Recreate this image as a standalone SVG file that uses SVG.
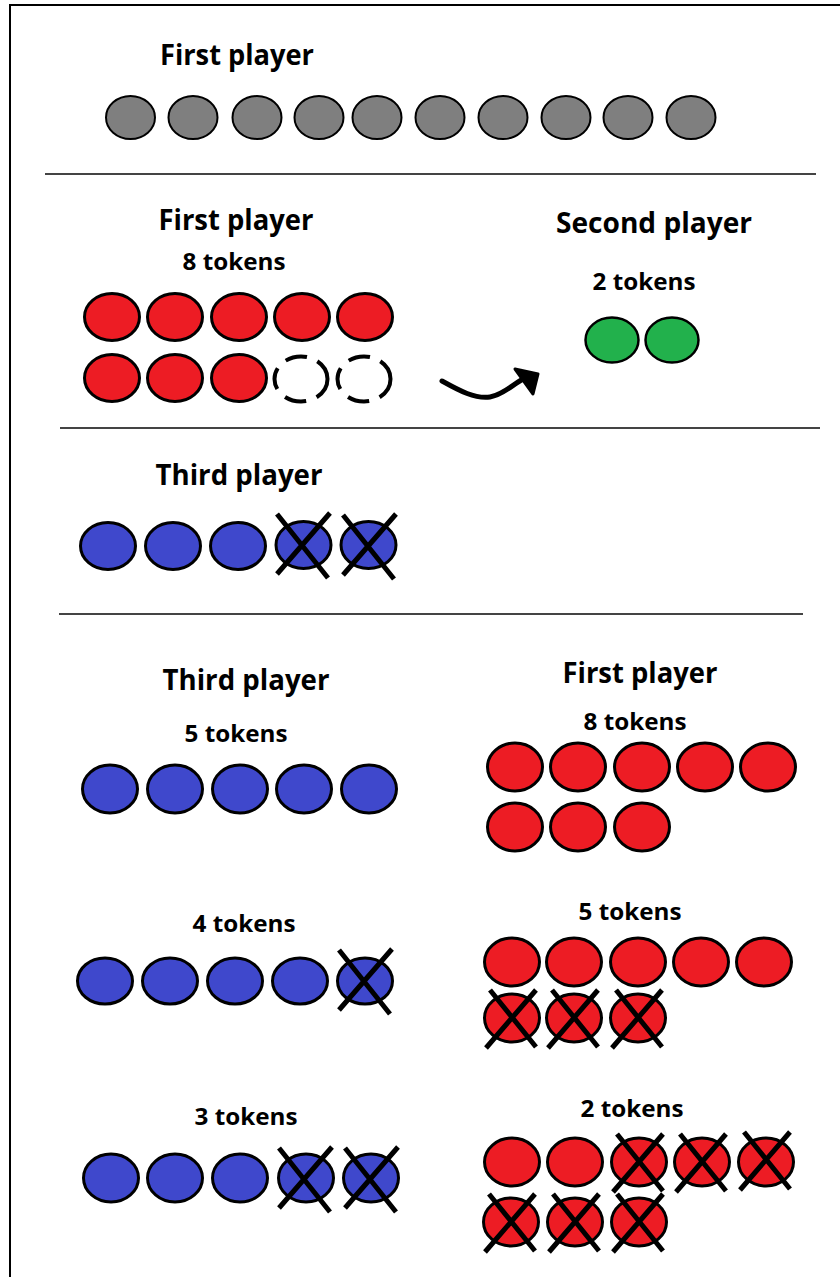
<svg xmlns="http://www.w3.org/2000/svg" xmlns:xlink="http://www.w3.org/1999/xlink" width="840" height="1277" viewBox="0 0 840 1277">
<style>
text{font-family:"Open Sans","Liberation Sans",sans-serif;font-weight:bold;fill:#000;text-anchor:middle}
.t{font-size:28px}
.s{font-size:24px}
.grey{fill:#7f7f7f;stroke:#000;stroke-width:2}
.red{fill:#ed1c24;stroke:#000;stroke-width:3}
.green{fill:#22b14c;stroke:#000;stroke-width:2.5}
.blue{fill:#3f48cc;stroke:#000;stroke-width:3}
.dash{fill:none;stroke:#000;stroke-width:4;stroke-dasharray:22 11}
.div{stroke:#444;stroke-width:2}
.x{fill:none;stroke:#000;stroke-width:5}
</style>
<defs>
<path id="cross" class="x" d="M-26,-31 L25,33 M27,-32 L-26,29"/>
<path id="crossS" class="x" d="M-22,-28 L24,29 M24,-28 L-26,30"/>
</defs>
<rect x="10" y="5" width="850" height="1290" fill="#fff" stroke="#000" stroke-width="2"/>

<g id="dividers">
<line class="div" x1="45" y1="174" x2="816" y2="174"/>
<line class="div" x1="60" y1="428" x2="820" y2="428"/>
<line class="div" x1="59" y1="614" x2="803" y2="614"/>
</g>

<g id="top-first-player">
<text class="t" x="237" y="65" textLength="154" lengthAdjust="spacingAndGlyphs">First player</text>
<ellipse class="grey" cx="130.5" cy="117.5" rx="24.5" ry="21.5"/>
<ellipse class="grey" cx="193" cy="117.5" rx="24.5" ry="21.5"/>
<ellipse class="grey" cx="257" cy="117.5" rx="24.5" ry="21.5"/>
<ellipse class="grey" cx="319" cy="117.5" rx="24.5" ry="21.5"/>
<ellipse class="grey" cx="377" cy="117.5" rx="24.5" ry="21.5"/>
<ellipse class="grey" cx="440" cy="117.5" rx="24.5" ry="21.5"/>
<ellipse class="grey" cx="503" cy="117.5" rx="24.5" ry="21.5"/>
<ellipse class="grey" cx="566" cy="117.5" rx="24.5" ry="21.5"/>
<ellipse class="grey" cx="628" cy="117.5" rx="24.5" ry="21.5"/>
<ellipse class="grey" cx="691" cy="117.5" rx="24.5" ry="21.5"/>
</g>

<g id="s2-first-player">
<text class="t" x="236" y="230" textLength="155" lengthAdjust="spacingAndGlyphs">First player</text>
<text class="s" x="234" y="270" textLength="103" lengthAdjust="spacingAndGlyphs">8 tokens</text>
<ellipse class="red" cx="112" cy="317" rx="27.5" ry="23.5"/>
<ellipse class="red" cx="175" cy="317" rx="27.5" ry="23.5"/>
<ellipse class="red" cx="239" cy="317" rx="27.5" ry="23.5"/>
<ellipse class="red" cx="302" cy="317" rx="27.5" ry="23.5"/>
<ellipse class="red" cx="365" cy="317" rx="27.5" ry="23.5"/>
<ellipse class="red" cx="112" cy="378" rx="27.5" ry="23.5"/>
<ellipse class="red" cx="175" cy="378" rx="27.5" ry="23.5"/>
<ellipse class="red" cx="239" cy="378" rx="27.5" ry="23.5"/>
<ellipse class="dash" cx="301" cy="379" rx="26.5" ry="22.5"/>
<ellipse class="dash" cx="364" cy="379" rx="26.5" ry="22.5"/>
</g>

<g id="connectors">
<path d="M442,381 C460,391 475,399 490,397 C503,395 512,385 523,379" fill="none" stroke="#000" stroke-width="5" stroke-linecap="round"/>
<polygon points="515,369 538,374 533,394" fill="#000" stroke="#000" stroke-width="3" stroke-linejoin="round"/>
</g>

<g id="s2-second-player">
<text class="t" x="654" y="233" textLength="196" lengthAdjust="spacingAndGlyphs">Second player</text>
<text class="s" x="644" y="290" textLength="103" lengthAdjust="spacingAndGlyphs">2 tokens</text>
<ellipse class="green" cx="612" cy="340" rx="26.5" ry="22.5"/>
<ellipse class="green" cx="672" cy="340" rx="26.5" ry="22.5"/>
</g>

<g id="s3-third-player">
<text class="t" x="239" y="485" textLength="167" lengthAdjust="spacingAndGlyphs">Third player</text>
<ellipse class="blue" cx="108" cy="546" rx="27.5" ry="23.5"/>
<ellipse class="blue" cx="173" cy="546" rx="27.5" ry="23.5"/>
<ellipse class="blue" cx="238" cy="546" rx="27.5" ry="23.5"/>
<ellipse class="blue" cx="303.5" cy="545" rx="27.5" ry="23.5"/>
<ellipse class="blue" cx="368.5" cy="545" rx="27.5" ry="23.5"/>
<use xlink:href="#cross" x="303" y="545"/>
<use xlink:href="#cross" x="369" y="546"/>
</g>

<g id="s4-third-player">
<text class="t" x="246" y="690" textLength="167" lengthAdjust="spacingAndGlyphs">Third player</text>
<text class="s" x="236" y="742" textLength="103" lengthAdjust="spacingAndGlyphs">5 tokens</text>
<ellipse class="blue" cx="110" cy="789" rx="27.5" ry="24"/>
<ellipse class="blue" cx="175" cy="789" rx="27.5" ry="24"/>
<ellipse class="blue" cx="240" cy="789" rx="27.5" ry="24"/>
<ellipse class="blue" cx="304" cy="789" rx="27.5" ry="24"/>
<ellipse class="blue" cx="369" cy="789" rx="27.5" ry="24"/>
</g>

<g id="s4-third-4tokens">
<text class="s" x="244" y="932" textLength="103" lengthAdjust="spacingAndGlyphs">4 tokens</text>
<ellipse class="blue" cx="105" cy="981" rx="27.5" ry="23"/>
<ellipse class="blue" cx="170" cy="981" rx="27.5" ry="23"/>
<ellipse class="blue" cx="235" cy="981" rx="27.5" ry="23"/>
<ellipse class="blue" cx="300" cy="981" rx="27.5" ry="23"/>
<ellipse class="blue" cx="365" cy="981" rx="27.5" ry="23"/>
<use xlink:href="#cross" x="365" y="981"/>
</g>

<g id="s4-third-3tokens">
<text class="s" x="246" y="1125" textLength="103" lengthAdjust="spacingAndGlyphs">3 tokens</text>
<ellipse class="blue" cx="111" cy="1178" rx="27.5" ry="24"/>
<ellipse class="blue" cx="175" cy="1178" rx="27.5" ry="24"/>
<ellipse class="blue" cx="240" cy="1178" rx="27.5" ry="24"/>
<ellipse class="blue" cx="306" cy="1178" rx="27.5" ry="24"/>
<ellipse class="blue" cx="371" cy="1178" rx="27.5" ry="24"/>
<use xlink:href="#cross" x="305" y="1179"/>
<use xlink:href="#cross" x="371" y="1179"/>
</g>

<g id="s4-first-player">
<text class="t" x="640" y="683" textLength="155" lengthAdjust="spacingAndGlyphs">First player</text>
<text class="s" x="635" y="730" textLength="103" lengthAdjust="spacingAndGlyphs">8 tokens</text>
<ellipse class="red" cx="515" cy="767" rx="27.5" ry="24"/>
<ellipse class="red" cx="578" cy="767" rx="27.5" ry="24"/>
<ellipse class="red" cx="642" cy="767" rx="27.5" ry="24"/>
<ellipse class="red" cx="705" cy="767" rx="27.5" ry="24"/>
<ellipse class="red" cx="768" cy="767" rx="27.5" ry="24"/>
<ellipse class="red" cx="515" cy="827" rx="27.5" ry="24"/>
<ellipse class="red" cx="578" cy="827" rx="27.5" ry="24"/>
<ellipse class="red" cx="642" cy="827" rx="27.5" ry="24"/>
</g>

<g id="s4-first-5tokens">
<text class="s" x="630" y="920" textLength="103" lengthAdjust="spacingAndGlyphs">5 tokens</text>
<ellipse class="red" cx="512" cy="962" rx="27.5" ry="24"/>
<ellipse class="red" cx="574" cy="962" rx="27.5" ry="24"/>
<ellipse class="red" cx="638" cy="962" rx="27.5" ry="24"/>
<ellipse class="red" cx="701" cy="962" rx="27.5" ry="24"/>
<ellipse class="red" cx="764" cy="962" rx="27.5" ry="24"/>
<ellipse class="red" cx="512" cy="1018" rx="27.5" ry="24"/>
<ellipse class="red" cx="574" cy="1018" rx="27.5" ry="24"/>
<ellipse class="red" cx="638" cy="1018" rx="27.5" ry="24"/>
<use xlink:href="#crossS" x="512" y="1018"/>
<use xlink:href="#crossS" x="574" y="1018"/>
<use xlink:href="#crossS" x="638" y="1018"/>
</g>

<g id="s4-first-2tokens">
<text class="s" x="632" y="1117" textLength="103" lengthAdjust="spacingAndGlyphs">2 tokens</text>
<ellipse class="red" cx="512" cy="1162" rx="27.5" ry="24"/>
<ellipse class="red" cx="575" cy="1162" rx="27.5" ry="24"/>
<ellipse class="red" cx="639" cy="1162" rx="27.5" ry="24"/>
<ellipse class="red" cx="702" cy="1162" rx="27.5" ry="24"/>
<ellipse class="red" cx="766" cy="1162" rx="27.5" ry="24"/>
<ellipse class="red" cx="511" cy="1222" rx="27.5" ry="24"/>
<ellipse class="red" cx="575" cy="1222" rx="27.5" ry="24"/>
<ellipse class="red" cx="639" cy="1222" rx="27.5" ry="24"/>
<use xlink:href="#crossS" x="639" y="1162"/>
<use xlink:href="#crossS" x="702" y="1162"/>
<use xlink:href="#crossS" x="766" y="1160"/>
<use xlink:href="#crossS" x="511" y="1222"/>
<use xlink:href="#crossS" x="575" y="1222"/>
<use xlink:href="#crossS" x="639" y="1222"/>
</g>
</svg>
